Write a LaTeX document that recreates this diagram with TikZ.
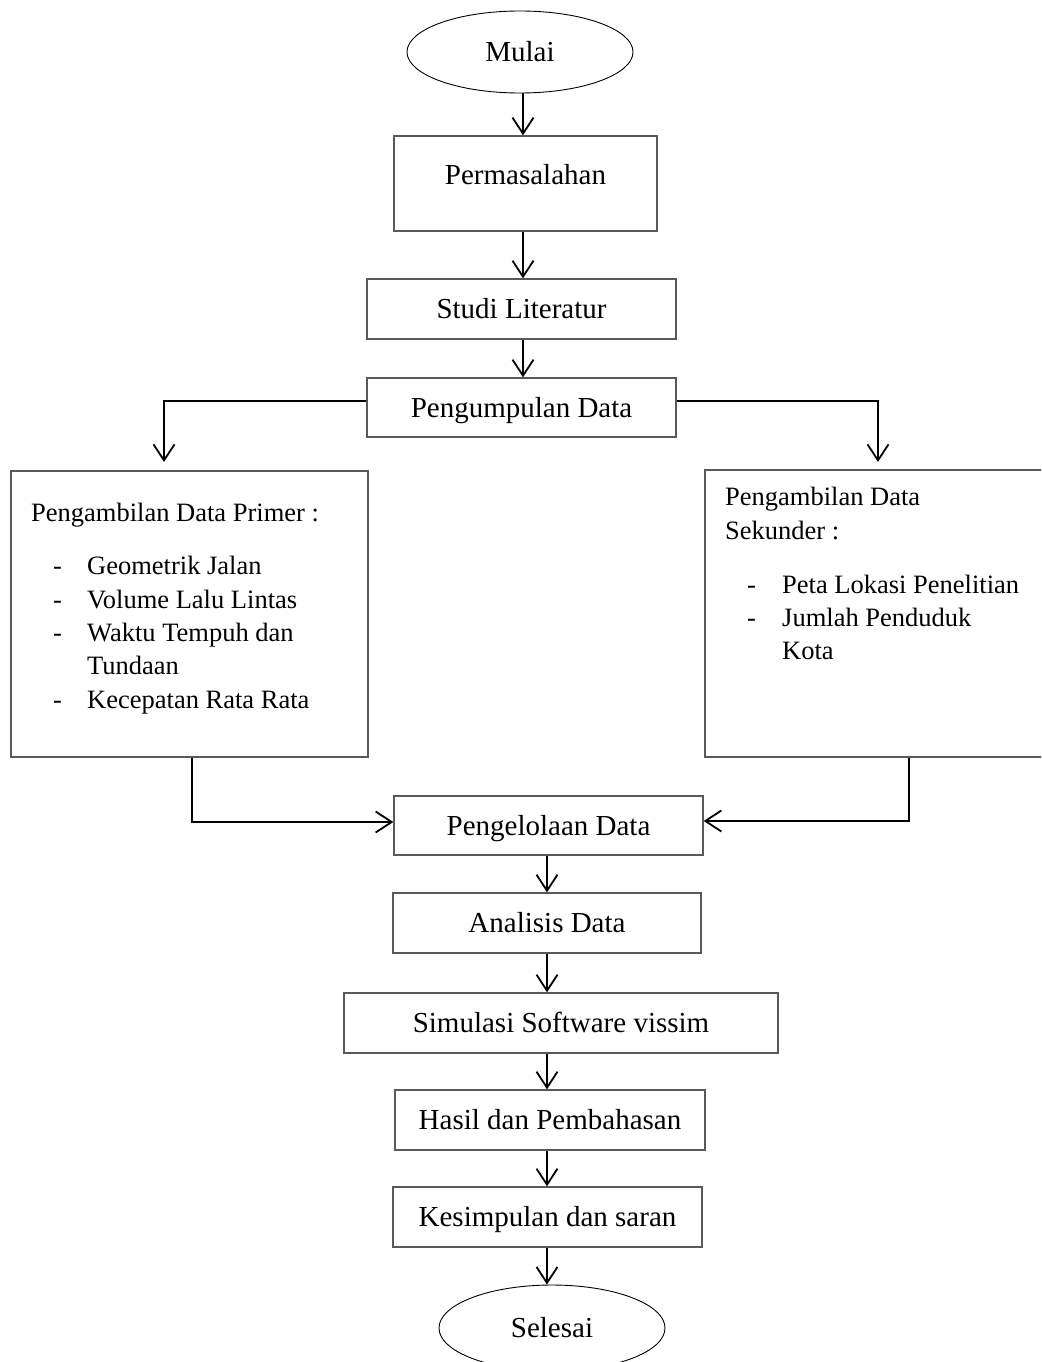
\documentclass[tikz,border=0pt]{standalone}
\usepackage{fontspec}
\setmainfont{Liberation Serif}
\usetikzlibrary{arrows.meta,shapes.geometric}
\begin{document}
\begin{tikzpicture}[x=1pt,y=-1pt,
  box/.style={draw=black!65,line width=1.4pt,rectangle,inner sep=0pt,
    font=\fontsize{29}{34}\selectfont,text height=19pt,text depth=0pt},
  bigbox/.style={draw=black!65,line width=1.4pt,rectangle,inner sep=0pt},
  oval/.style={draw=black,line width=0.9pt,ellipse,inner sep=0pt,
    font=\fontsize{29}{34}\selectfont,text height=19pt,text depth=0pt},
  conn/.style={draw=black,line width=1.8pt,line join=miter,
    -{Straight Barb[length=16pt,width=21pt,line width=1.8pt]}},
  itemtxt/.style={anchor=base west,inner sep=0pt,font=\fontsize{26.5}{33}\selectfont}]
\clip (0,0) rectangle (1041,1362);
\fill[white] (0,0) rectangle (1041,1362);
% nodes
\node[oval,minimum width=226pt,minimum height=82pt] (mulai) at (520,52) {Mulai};
\node[box,minimum width=263pt,minimum height=95pt,text depth=18pt] (perm) at (525.5,183.5) {Permasalahan};
\node[box,minimum width=309pt,minimum height=60pt] (studi) at (521.5,309) {Studi Literatur};
\node[box,minimum width=309pt,minimum height=59pt] (kump) at (521.5,407.5) {Pengumpulan Data};
\node[bigbox,minimum width=357pt,minimum height=286pt] (primer) at (189.5,614) {};
\node[bigbox,minimum width=341pt,minimum height=287pt] (sek) at (875.5,613.5) {};
\node[box,minimum width=309pt,minimum height=59pt] (olah) at (548.5,825.5) {Pengelolaan Data};
\node[box,minimum width=308pt,minimum height=60pt] (anal) at (547,923) {Analisis Data};
\node[box,minimum width=434pt,minimum height=60pt] (simul) at (561,1023) {Simulasi Software vissim};
\node[box,minimum width=310pt,minimum height=60pt] (hasil) at (550,1120) {Hasil dan Pembahasan};
\node[box,minimum width=309pt,minimum height=60pt] (kesim) at (547.5,1217) {Kesimpulan dan saran};
\node[oval,minimum width=226pt,minimum height=86pt] (selesai) at (552,1328) {Selesai};
% primer contents
\node[itemtxt] (p0) at (31,521) {Pengambilan Data Primer :};
\node[itemtxt] (p1d) at (53,574) {-};
\node[itemtxt] (p1) at (87,574) {Geometrik Jalan};
\node[itemtxt] (p2d) at (53,608) {-};
\node[itemtxt] (p2) at (87,608) {Volume Lalu Lintas};
\node[itemtxt] (p3d) at (53,641) {-};
\node[itemtxt] (p3) at (87,641) {Waktu Tempuh dan};
\node[itemtxt] (p3b) at (87,674) {Tundaan};
\node[itemtxt] (p4d) at (53,708) {-};
\node[itemtxt] (p4) at (87,708) {Kecepatan Rata Rata};
% sekunder contents
\node[itemtxt] (s0) at (725,505) {Pengambilan Data};
\node[itemtxt] (s0b) at (725,539) {Sekunder :};
\node[itemtxt] (s1d) at (747,593) {-};
\node[itemtxt] (s1) at (782,593) {Peta Lokasi Penelitian};
\node[itemtxt] (s2d) at (747,626) {-};
\node[itemtxt] (s2) at (782,626) {Jumlah Penduduk};
\node[itemtxt] (s2b) at (782,659) {Kota};
% helper coordinates
\coordinate (ax) at (523,0);
\coordinate (bx) at (547,0);
\coordinate (lt) at (164,462);
\coordinate (rt) at (878,462);
\coordinate (lb) at (192,0);
\coordinate (rb) at (909,0);
% connectors
\draw[conn] (mulai.south -| ax) -- (perm.north -| ax);
\draw[conn] (perm.south -| ax) -- (studi.north -| ax);
\draw[conn] (studi.south -| ax) -- (kump.north -| ax);
\draw[conn] ([yshift=6.5pt]kump.west) -| (lt);
\draw[conn] ([yshift=6.5pt]kump.east) -| (rt);
\draw[conn] (primer.south -| lb) |- ([yshift=3.5pt]olah.west);
\draw[conn] (sek.south -| rb) |- ([yshift=4.5pt]olah.east);
\draw[conn] (olah.south -| bx) -- (anal.north -| bx);
\draw[conn] (anal.south -| bx) -- (simul.north -| bx);
\draw[conn] (simul.south -| bx) -- (hasil.north -| bx);
\draw[conn] (hasil.south -| bx) -- (kesim.north -| bx);
\draw[conn] (kesim.south -| bx) -- (selesai.north -| bx);
\end{tikzpicture}
\end{document}
